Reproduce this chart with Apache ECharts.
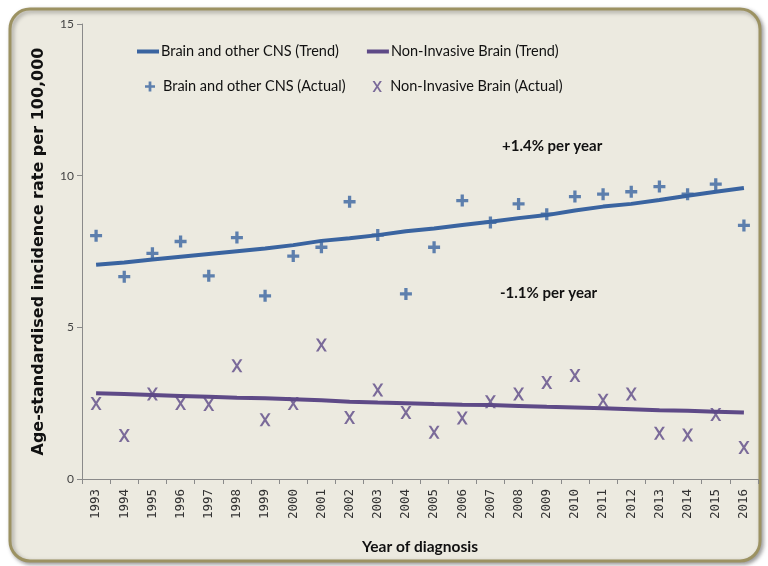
<!DOCTYPE html>
<html><head><meta charset="utf-8">
<script src="https://cdn.jsdelivr.net/npm/echarts@6/dist/echarts.min.js"></script>
<style>html,body{margin:0;padding:0;background:#fff}#c{width:768px;height:566px}</style>
</head><body><div id="c"></div>
<script>
var years = ['1993','1994','1995','1996','1997','1998','1999','2000','2001','2002','2003','2004','2005','2006','2007','2008','2009','2010','2011','2012','2013','2014','2015','2016'];
var cnsActual = [8.02,6.67,7.44,7.83,6.70,7.96,6.04,7.35,7.64,9.14,8.04,6.10,7.64,9.18,8.46,9.07,8.73,9.31,9.39,9.47,9.64,9.39,9.72,8.36];
var cnsTrend = [7.06,7.14,7.24,7.33,7.42,7.51,7.60,7.71,7.85,7.94,8.04,8.17,8.26,8.37,8.48,8.60,8.70,8.85,8.98,9.07,9.20,9.34,9.47,9.59];
var nibActual = [2.49,1.43,2.80,2.49,2.46,3.73,1.95,2.49,4.42,2.03,2.93,2.19,1.54,2.01,2.55,2.80,3.18,3.41,2.60,2.80,1.51,1.45,2.13,1.04];
var nibTrend = [2.83,2.80,2.77,2.74,2.71,2.68,2.66,2.63,2.60,2.55,2.52,2.50,2.47,2.45,2.44,2.41,2.38,2.36,2.33,2.30,2.27,2.25,2.22,2.19];
var yTicks = [0,5,10,15];

var BLUE = '#3a64a0', PURPLE = '#5e4a87';
var NARROW = "Lato,sans-serif";
var plusPath = 'path://M4,0H7V4H11V7H7V11H4V7H0V4H4Z';
var xPath = 'path://M0,0L2.5,0L5.5,4.6L8.5,0L11,0L6.8,6.5L11,13L8.5,13L5.5,8.4L2.5,13L0,13L4.2,6.5Z';

var chart = echarts.init(document.getElementById('c'), null, {renderer:'canvas'});
chart.setOption({
  animation:false,
  backgroundColor:'#ffffff',
  graphic:[
    {type:'rect', z:-10, shape:{x:10,y:9,width:750,height:552,r:20},
     style:{fill:'#eceae0',stroke:'#9c9262',lineWidth:3,shadowBlur:4,shadowOffsetX:2,shadowOffsetY:2,shadowColor:'rgba(0,0,0,0.35)'}},
    {type:'text', left:502, top:139, z:5, style:{text:'+1.4% per year', font:"bold 15px Lato,sans-serif", fill:'#111'}},
    {type:'text', left:500, top:286, z:5, style:{text:'-1.1% per year', font:"bold 15px Lato,sans-serif", fill:'#111'}}
  ],
  grid:{left:82,right:10,top:24,bottom:87,containLabel:false},
  legend:[
    {data:['Brain and other CNS (Trend)','Non-Invasive Brain (Trend)'], left:132, top:39, icon:'rect', itemWidth:22, itemHeight:4, itemGap:28,
     textStyle:{fontFamily:NARROW,fontSize:14.5,color:'#111',padding:[0,0,0,-3]}},
    {data:['Brain and other CNS (Actual)','Non-Invasive Brain (Actual)'], left:140, top:74, itemWidth:10, itemHeight:11, itemGap:27,
     textStyle:{fontFamily:NARROW,fontSize:14.5,color:'#111',padding:[0,0,0,3]}}
  ],
  xAxis:{type:'category', data:years, boundaryGap:true,
    name:'Year of diagnosis', nameLocation:'middle', nameGap:60,
    nameTextStyle:{fontFamily:NARROW,fontSize:15.5,fontWeight:'bold',color:'#111'},
    axisLine:{lineStyle:{color:'#8a8a8a'}},
    axisTick:{show:true,alignWithLabel:false,length:5,lineStyle:{color:'#8a8a8a'}},
    axisLabel:{rotate:90,fontFamily:"'DejaVu Sans Mono',monospace",fontSize:12.5,color:'#333',margin:10,interval:0}},
  yAxis:{type:'value', min:0, max:15, interval:5,
    name:'Age-standardised incidence rate per 100,000', nameLocation:'middle', nameGap:35, nameRotate:90,
    nameTextStyle:{fontFamily:"'DejaVu Sans',sans-serif",fontSize:16,fontWeight:'bold',color:'#111'},
    axisLine:{show:true,lineStyle:{color:'#8a8a8a'}},
    axisTick:{show:true,length:5,lineStyle:{color:'#8a8a8a'}},
    splitLine:{show:false},
    axisLabel:{fontFamily:NARROW,fontSize:12,color:'#444',margin:8,
      formatter:function(v){return yTicks.indexOf(v)>=0?String(v):'';}}},
  series:[
    {name:'Brain and other CNS (Trend)', type:'line', data:cnsTrend, showSymbol:false, symbol:'none', color:BLUE, lineStyle:{width:4,color:BLUE}, z:3},
    {name:'Non-Invasive Brain (Trend)', type:'line', data:nibTrend, showSymbol:false, symbol:'none', color:PURPLE, lineStyle:{width:4,color:PURPLE}, z:3},
    {name:'Brain and other CNS (Actual)', type:'scatter', data:cnsActual, symbol:plusPath, symbolSize:12, itemStyle:{color:BLUE}, z:4},
    {name:'Non-Invasive Brain (Actual)', type:'scatter', data:nibActual, symbol:xPath, symbolSize:[11,13], itemStyle:{color:PURPLE}, z:4}
  ]
});
</script></body></html>
